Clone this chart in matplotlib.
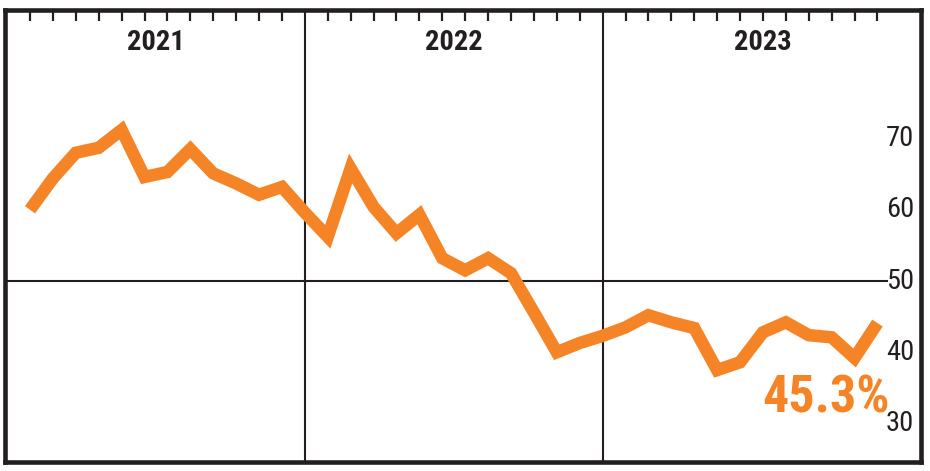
import os
import matplotlib
matplotlib.use("Agg")
import matplotlib.pyplot as plt
from matplotlib import font_manager
from matplotlib.font_manager import FontProperties

# ---- data ----
years = ["2021", "2022", "2023"]
values = [60.0, 64.4, 68.0, 68.7, 71.2, 64.6, 65.3, 68.5, 65.1, 63.7, 62.1, 63.2,
          59.6, 56.2, 65.8, 60.4, 56.7, 59.3, 53.2, 51.5, 53.2, 51.1,
          45.6, 40.0, 41.3, 42.3, 43.5, 45.2, 44.2, 43.4, 37.5, 38.6, 42.8,
          44.2, 42.4, 42.1, 39.2, 44.1]
y_ticks = [30, 40, 50, 60, 70]
end_label = "45.3%"
year_dividers = [12, 25]          # index positions of year boundaries
year_centers = [5.5, 18.5, 32.0]

ORANGE = "#F58426"
DARK = "#231F20"


def find_condensed(bold):
    best = None
    best_score = -1
    for f in font_manager.fontManager.ttflist:
        n = f.name.lower()
        fn = os.path.basename(f.fname).lower()
        if f.style != "normal" or "italic" in fn or "oblique" in fn:
            continue
        cond = ("condensed" in n or "narrow" in n or "condensed" in fn
                or "narrow" in fn or "cond" in fn
                or f.stretch in ("condensed", "semi-condensed", "extra-condensed"))
        if not cond:
            continue
        w = f.weight if isinstance(f.weight, int) else (700 if "bold" in str(f.weight) else 400)
        is_bold = w >= 600
        if is_bold != bold:
            continue
        if "light" in fn or "thin" in fn or "black" in fn or "medium" in fn:
            continue
        score = 1
        if "roboto" in n:
            score = 5
        elif "narrow" in n or "narrow" in fn:
            score = 4
        elif "dejavu" in n:
            score = 3
        elif "open" in n:
            score = 2
        if score > best_score:
            best_score = score
            best = f.fname
    return best


reg_path = find_condensed(False)
bold_path = find_condensed(True)


def fp(size, bold=False):
    path = bold_path if bold else reg_path
    if path:
        return FontProperties(fname=path, size=size)
    return FontProperties(family="DejaVu Sans", size=size,
                          weight="bold" if bold else "normal")


fig = plt.figure(figsize=(9.3, 4.71), dpi=100)
ax = fig.add_axes([0.0059, 0.0191, 0.9844, 0.9607])

x = list(range(len(values)))
ax.plot(x, values, color=ORANGE, lw=9, solid_joinstyle="miter",
        solid_capstyle="butt", zorder=3)

ax.set_xlim(-1.07, 38.9)
ax.set_ylim(24.6, 88.1)

for s in ax.spines.values():
    s.set_linewidth(3.3)
    s.set_color(DARK)

for d in year_dividers:
    ax.axvline(d, color=DARK, lw=1.5, zorder=2)
ax.axhline(50, xmin=0, xmax=0.963, color=DARK, lw=1.5, zorder=2)

ticks = [i for i in range(len(values)) if i not in year_dividers]
ax.set_xticks(ticks)
ax.tick_params(axis="x", which="both", top=True, bottom=False, labeltop=False,
               labelbottom=False, direction="in", length=8, width=1.6, color=DARK)
ax.set_yticks([])

for yr, c in zip(years, year_centers):
    ax.text(c, 0.926, yr, transform=ax.get_xaxis_transform(), ha="center",
            va="center", fontproperties=fp(20.5, True), color=DARK)

for t in y_ticks:
    ax.text(0.9924, t, str(t), transform=ax.get_yaxis_transform(), ha="right",
            va="center", fontproperties=fp(20.5), color=DARK)

ax.text(37.55, 31.5, end_label, ha="right", va="baseline",
        fontproperties=fp(37.5, True), color=ORANGE, zorder=4)

fig.savefig("out.png", dpi=100)
